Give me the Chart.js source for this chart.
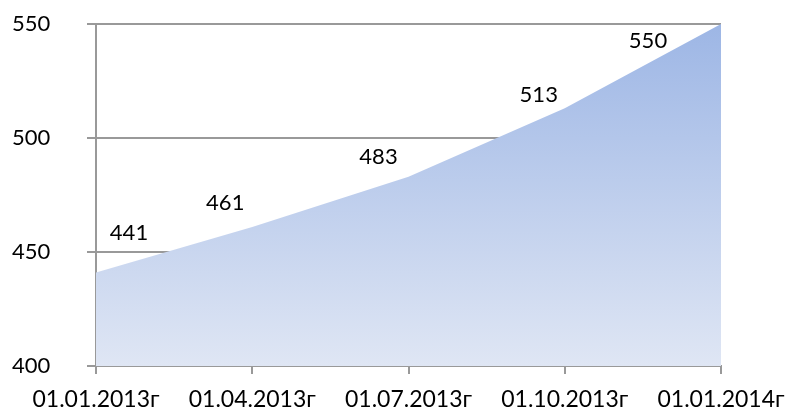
<!DOCTYPE html>
<html lang="ru">
<head>
  <meta charset="UTF-8">
  <title>Area chart</title>
  <script src="https://cdn.jsdelivr.net/npm/chart.js"></script>
  <style>
    body { margin: 0; padding: 0; background: #fff; }
    #wrap { width: 790px; height: 410px; }
  </style>
</head>
<body>
<div id="wrap"><canvas id="areaChart" width="790" height="410"></canvas></div>
<script>
  const dates = ['01.01.2013г', '01.04.2013г', '01.07.2013г', '01.10.2013г', '01.01.2014г'];
  const values = [441, 461, 483, 513, 550];
  const yTicks = [400, 450, 500, 550];

  const FONT = { family: 'Lato', size: 22 };
  const X_FONT = { family: 'Lato', size: 23 };

  // value labels drawn next to each point, nudged like in the original
  const valueLabels = {
    id: 'valueLabels',
    afterDatasetsDraw(chart, args, opts) {
      const ctx = chart.ctx;
      const meta = chart.getDatasetMeta(0);
      ctx.save();
      ctx.font = FONT.size + 'px ' + FONT.family;
      ctx.fillStyle = '#000';
      ctx.textAlign = 'center';
      ctx.textBaseline = 'middle';
      meta.data.forEach((pt, i) => {
        const off = opts.offsets[i];
        ctx.fillText(String(values[i]), pt.x + off[0], pt.y + off[1]);
      });
      ctx.restore();
    }
  };

  const ctx = document.getElementById('areaChart').getContext('2d');

  const chart = new Chart(ctx, {
    type: 'line',
    data: {
      labels: dates,
      datasets: [{
        data: values,
        fill: 'start',
        borderWidth: 0,
        pointRadius: 0,
        tension: 0,
        backgroundColor: function (context) {
          const area = context.chart.chartArea;
          if (!area) return '#bfcfee';
          const g = context.chart.ctx.createLinearGradient(0, area.top, 0, area.bottom);
          g.addColorStop(0, '#9db6e5');
          g.addColorStop(1, '#dfe6f4');
          return g;
        }
      }]
    },
    options: {
      responsive: false,
      animation: false,
      layout: { padding: { top: 24, right: 69, left: 12, bottom: 0 } },
      plugins: {
        legend: { display: false },
        tooltip: { enabled: false },
        valueLabels: {
          offsets: [[33, -40], [-27, -24], [-30, -20], [-26, -13], [-73, 17]]
        }
      },
      scales: {
        x: {
          offset: false,
          grid: {
            drawOnChartArea: false,
            drawTicks: true,
            tickLength: 8,
            color: '#999',
            lineWidth: 2
          },
          border: { display: true, color: '#999', width: 2 },
          ticks: {
            color: '#000',
            font: X_FONT,
            padding: 12,
            maxRotation: 0,
            autoSkip: false
          },
          afterFit(scale) {
            scale.height = 44;
            // edge labels may hang past the plot, as in the original
            scale.paddingLeft = 0;
            scale.paddingRight = 0;
          }
        },
        y: {
          min: 400,
          max: 550,
          afterBuildTicks(scale) { scale.ticks = yTicks.map(v => ({ value: v })); },
          grid: {
            color: '#999',
            lineWidth: 2,
            tickLength: 9
          },
          border: { display: true, color: '#999', width: 2 },
          ticks: {
            color: '#000',
            font: FONT,
            padding: 3,
            crossAlign: 'far'
          },
          afterFit(scale) { scale.width = 84; }
        }
      }
    },
    plugins: [valueLabels]
  });
</script>
</body>
</html>
